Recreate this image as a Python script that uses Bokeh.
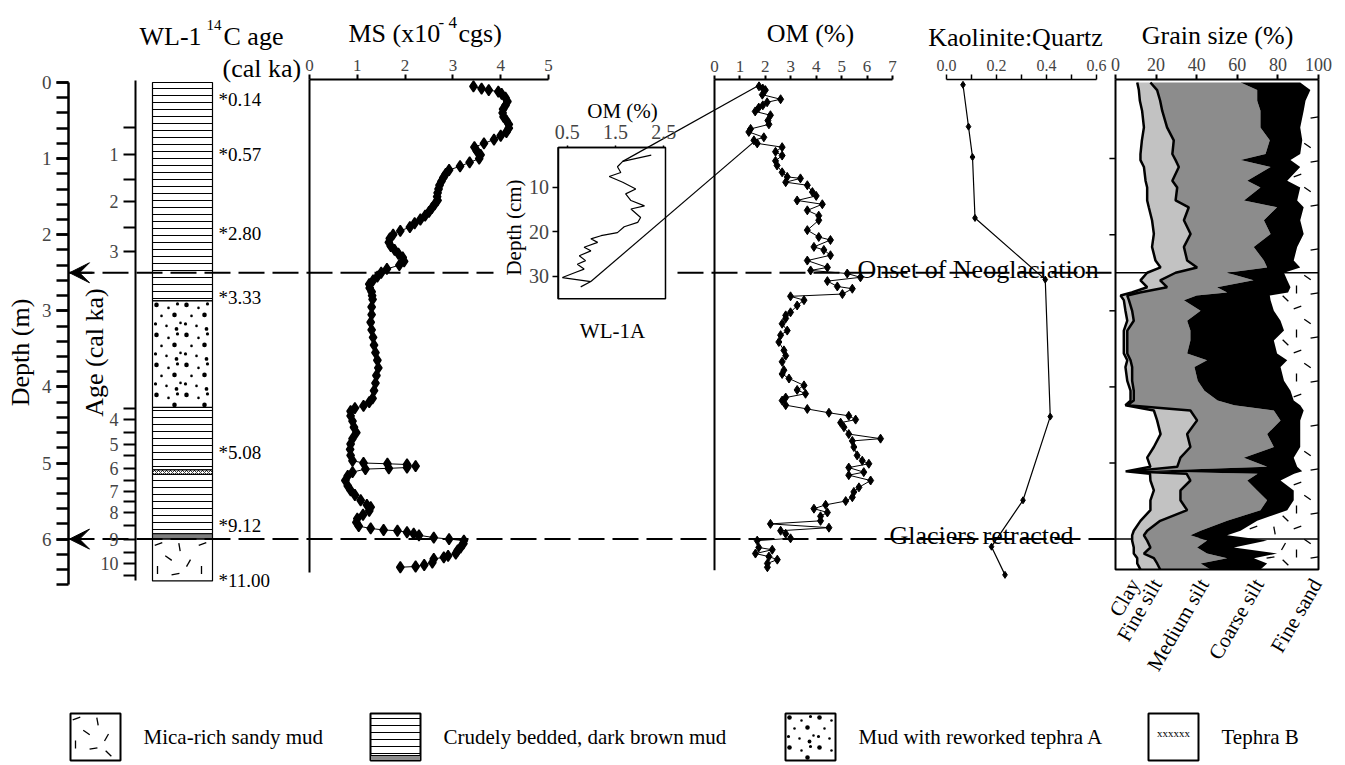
import numpy as np
from bokeh.plotting import figure
from bokeh.models import (Range1d, LinearAxis, FixedTicker, Arrow, VeeHead,
                          NumeralTickFormatter, Grid)
from bokeh.core.properties import value
from bokeh.embed import file_html
from bokeh.resources import INLINE

FONT = "Liberation Serif"

# ---------------------------------------------------------------- data
events_depth = [2.5, 6.0]
events_label = ["Onset of Neoglaciation", "Glaciers retracted"]

litho_top = [0.0, 2.87, 4.27, 5.09, 5.15, 5.93, 6.00]
litho_bottom = [2.87, 4.27, 5.09, 5.15, 5.93, 6.00, 6.55]
litho_kind = ["mud", "tephraA", "mud", "tephraB", "mud", "band", "mica"]

c14_depth = [0.22, 0.95, 1.98, 2.83, 4.86, 5.82, 6.54]
c14_label = ["*0.14", "*0.57", "*2.80", "*3.33", "*5.08", "*9.12", "*11.00"]

depth_ticks = [0, 1, 2, 3, 4, 5, 6]
age_tick_depth = [0.95, 1.56, 2.22, 4.43, 4.76, 5.07, 5.38, 5.65, 6.00, 6.32]
age_tick_label = ["1", "2", "3", "4", "5", "6", "7", "8", "9", "10"]
age_minor_depth = [0.59, 1.27, 1.91, 4.28, 4.60, 4.90, 5.23, 5.51, 5.82, 6.18, 6.48]

ms_depth = [0.05, 0.08, 0.10, 0.12, 0.15, 0.20, 0.25, 0.30, 0.35, 0.40, 0.45, 0.50,
            0.55, 0.60, 0.65, 0.70, 0.75, 0.80, 0.85, 0.90, 0.95, 1.00, 1.05, 1.10,
            1.15, 1.20, 1.25, 1.30, 1.35, 1.40, 1.45, 1.50, 1.55, 1.60, 1.65, 1.70,
            1.75, 1.80, 1.85, 1.90, 1.95, 2.00, 2.05, 2.10, 2.15, 2.20, 2.25, 2.30,
            2.35, 2.40, 2.45, 2.50, 2.55, 2.60, 2.65, 2.70, 2.75, 2.80, 2.85, 2.95,
            3.05, 3.15, 3.25, 3.35, 3.45, 3.55, 3.65, 3.75, 3.85, 3.95, 4.05, 4.15,
            4.20, 4.25, 4.28, 4.32, 4.38, 4.45, 4.53, 4.60, 4.68, 4.75, 4.82, 4.90,
            4.97, 5.00, 5.01, 5.02, 5.04, 5.06, 5.07, 5.08, 5.12, 5.17, 5.23, 5.30,
            5.36, 5.42, 5.49, 5.55, 5.58, 5.63, 5.68, 5.73, 5.78, 5.83, 5.86, 5.88,
            5.89, 5.91, 5.93, 5.95, 5.98, 6.00, 6.02, 6.06, 6.11, 6.15, 6.19, 6.22,
            6.24, 6.26, 6.31, 6.34, 6.36, 6.37]
ms_value = [3.43, 3.60, 3.75, 3.95, 4.02, 4.10, 4.14, 4.10, 4.05, 4.04, 4.06, 4.12,
            4.17, 4.17, 4.12, 4.00, 3.86, 3.65, 3.45, 3.50, 3.58, 3.55, 3.35, 3.15,
            2.92, 2.85, 2.80, 2.76, 2.72, 2.70, 2.68, 2.67, 2.68, 2.62, 2.56, 2.50,
            2.42, 2.32, 2.20, 2.10, 1.90, 1.75, 1.68, 1.66, 1.70, 1.78, 1.86, 1.95,
            1.98, 1.88, 1.62, 1.50, 1.42, 1.33, 1.25, 1.26, 1.30, 1.31, 1.32, 1.30,
            1.30, 1.28, 1.30, 1.33, 1.35, 1.38, 1.42, 1.44, 1.40, 1.38, 1.35, 1.32,
            1.25, 1.13, 0.95, 0.86, 0.86, 0.90, 0.93, 0.98, 0.90, 0.86, 0.85, 0.86,
            0.90, 1.13, 1.63, 2.04, 2.22, 2.04, 1.66, 1.17, 0.90, 0.80, 0.75, 0.80,
            0.86, 0.95, 1.07, 1.20, 1.28, 1.25, 1.12, 1.00, 0.98, 1.03, 1.28, 1.55,
            1.84, 2.04, 2.18, 2.29, 2.60, 2.92, 3.23, 3.22, 3.16, 3.10, 3.06, 2.90,
            2.81, 2.60, 2.57, 2.40, 2.22, 1.90]

om_depth = [0.05, 0.08, 0.10, 0.16, 0.22, 0.26, 0.30, 0.33, 0.38, 0.43, 0.50, 0.55,
            0.61, 0.65, 0.72, 0.76, 0.80, 0.85, 0.91, 0.96, 1.03, 1.09, 1.18, 1.24,
            1.26, 1.31, 1.35, 1.44, 1.49, 1.55, 1.60, 1.68, 1.75, 1.81, 1.94, 2.03,
            2.07, 2.16, 2.20, 2.27, 2.34, 2.43, 2.47, 2.51, 2.56, 2.61, 2.68, 2.71,
            2.78, 2.81, 2.86, 2.93, 3.02, 3.06, 3.10, 3.17, 3.26, 3.32, 3.41, 3.52,
            3.59, 3.67, 3.78, 3.83, 3.89, 3.98, 4.04, 4.09, 4.14, 4.18, 4.24, 4.29,
            4.34, 4.38, 4.43, 4.47, 4.53, 4.62, 4.68, 4.71, 4.79, 4.90, 4.97, 5.01,
            5.06, 5.12, 5.16, 5.23, 5.32, 5.38, 5.45, 5.50, 5.55, 5.60, 5.65, 5.70,
            5.76, 5.80, 5.85, 5.89, 5.93, 5.99, 6.02, 6.11, 6.14, 6.19, 6.23, 6.27,
            6.32, 6.37]
om_value = [1.75, 1.90, 2.00, 1.88, 2.60, 2.07, 1.90, 1.74, 1.60, 2.20, 2.10, 2.14,
            1.42, 1.35, 1.94, 1.55, 1.68, 2.66, 2.40, 2.66, 2.40, 2.46, 2.66, 2.86,
            3.38, 2.80, 3.65, 3.85, 4.00, 3.25, 4.24, 3.65, 4.10, 4.10, 3.65, 4.10,
            4.56, 3.91, 4.30, 4.56, 3.65, 4.44, 3.78, 5.22, 5.74, 4.44, 4.83, 5.42,
            5.03, 2.99, 3.52, 3.25, 2.99, 2.80, 2.80, 2.66, 2.86, 2.60, 2.53, 2.73,
            2.80, 2.66, 2.73, 2.66, 2.93, 3.52, 3.25, 3.58, 2.80, 2.66, 2.80, 3.65,
            4.50, 5.28, 5.55, 4.96, 5.09, 5.28, 6.53, 5.42, 5.48, 5.61, 5.81, 6.07,
            5.28, 5.87, 5.28, 6.14, 5.68, 5.48, 5.42, 5.16, 4.37, 3.91, 4.44, 4.17,
            4.17, 2.20, 4.50, 2.60, 2.80, 2.99, 1.68, 1.74, 2.27, 1.61, 2.14, 2.47,
            2.08, 2.08]

kq_depth = [0.03, 0.58, 0.98, 1.78, 2.59, 4.39, 5.49, 6.10, 6.47]
kq_value = [0.066, 0.088, 0.104, 0.114, 0.395, 0.415, 0.306, 0.180, 0.234]

gs_classes = ["Clay", "Fine silt", "Medium silt", "Coarse silt", "Fine sand"]
gs_depth = [0.00, 0.10, 0.24, 0.37, 0.59, 0.76, 0.94, 1.02, 1.11, 1.29, 1.38, 1.55,
            1.64, 1.81, 1.99, 2.16, 2.34, 2.43, 2.50, 2.60, 2.69, 2.76, 2.80, 2.86,
            3.00, 3.13, 3.26, 3.39, 3.56, 3.65, 3.74, 3.92, 4.05, 4.18, 4.24, 4.31,
            4.44, 4.62, 4.79, 4.93, 5.05, 5.11, 5.14, 5.23, 5.36, 5.49, 5.62, 5.76,
            5.89, 5.95, 6.02, 6.11, 6.19, 6.25, 6.32, 6.40]
gs_clay = [10.7, 11.5, 12.0, 13.1, 14.0, 13.0, 12.3, 12.3, 14.0, 14.8, 15.6, 15.6,
           16.4, 18.0, 18.9, 18.0, 19.7, 22.2, 15.6, 12.3, 15.6, 8.0, 2.5, 4.1,
           4.9, 5.8, 4.1, 4.1, 4.1, 5.8, 4.9, 5.8, 7.4, 7.4, 4.9, 18.9,
           20.5, 22.2, 18.9, 15.6, 17.2, 5.0, 17.0, 17.2, 18.9, 17.2, 17.2, 12.3,
           9.0, 8.2, 8.2, 9.0, 9.0, 10.7, 10.7, 12.3]
gs_fine_silt = [17.2, 20.5, 22.0, 23.0, 25.4, 28.7, 28.0, 29.6, 31.2, 28.0, 30.4, 29.6,
                36.1, 33.7, 37.0, 33.7, 35.3, 40.2, 29.6, 22.0, 25.4, 12.0, 5.8, 6.6,
                8.2, 9.0, 5.8, 5.8, 5.8, 7.4, 8.2, 8.2, 9.0, 9.0, 5.8, 36.9,
                40.2, 35.3, 36.9, 32.0, 30.4, 7.0, 35.0, 36.9, 32.0, 32.0, 35.3, 22.0,
                15.6, 14.0, 15.6, 17.2, 14.0, 18.9, 20.5, 22.0]
gs_medium_silt = [61.6, 69.8, 69.8, 71.4, 71.4, 76.0, 73.9, 61.6, 76.4, 64.9, 71.4, 63.3,
                  79.6, 73.1, 76.4, 68.1, 73.1, 74.7, 55.0, 68.0, 50.0, 55.0, 40.0, 33.7,
                  41.9, 35.3, 36.9, 36.9, 35.3, 45.1, 38.9, 40.5, 43.8, 50.3, 58.5, 78.0,
                  81.3, 74.7, 78.0, 63.2, 74.7, 10.0, 70.0, 64.9, 69.8, 74.7, 71.4, 55.0,
                  41.9, 36.9, 45.1, 40.2, 45.1, 55.0, 41.9, 46.8]
gs_coarse_silt = [91.0, 96.0, 93.6, 92.7, 91.0, 92.0, 91.0, 86.2, 91.0, 84.6, 91.0, 89.5,
                  92.7, 91.0, 92.7, 89.5, 87.8, 91.0, 83.0, 84.6, 86.2, 85.0, 76.0, 76.4,
                  78.0, 81.3, 83.0, 78.0, 79.6, 84.6, 81.3, 83.0, 86.2, 87.8, 91.0, 92.7,
                  91.0, 91.0, 91.0, 87.8, 89.5, 92.0, 88.0, 81.3, 87.8, 87.8, 84.6, 69.8,
                  61.6, 55.0, 74.7, 58.3, 79.6, 68.2, 74.7, 71.4]
gs_tick_depth = [1, 2, 3, 4, 5, 6]

inset_depth_cm = [2.8, 4.2, 5.4, 6.7, 7.6, 8.9, 10.4, 11.5, 13.0, 14.2, 14.9, 16.8,
                  17.9, 18.9, 20.2, 20.9, 21.6, 22.4, 23.5, 24.3, 25.4, 26.5, 27.3,
                  28.4, 29.1, 30.3, 31.2, 32.4]
inset_om = [2.24, 1.65, 1.54, 1.61, 1.37, 1.65, 1.92, 1.71, 1.82, 2.10, 1.82, 2.02,
            1.96, 1.68, 1.54, 1.20, 0.99, 1.13, 0.85, 0.99, 0.75, 0.88, 0.71, 0.85,
            0.68, 0.40, 0.99, 0.78]
# inset points (OM %, cm) linked to WL-1 OM points (OM %, m)
link_inset = [(1.65, 4.2), (0.99, 31.2)]
link_core = [(1.68, 0.05), (1.55, 0.78)]

legend_labels = ["Mica-rich sandy mud", "Crudely bedded, dark brown mud",
                 "Mud with reworked tephra A", "Tephra B"]
legend_kind = ["mica", "mud", "tephraA", "tephraB"]

# texture motifs (one repeating tile each, in pixels): mica flakes and tephra grains
MICA_TILE = 44
mica_motif = [(6, 5, 20), (27, 8, 100), (16, 19, -35), (36, 24, 60), (5, 31, 90),
              (23, 35, 10), (38, 40, -45)]
GRAIN_TILE = 30
grain_motif = [(4, 4, 4.6), (16, 7, 2.6), (25, 3, 3.2), (9, 15, 2.6), (22, 14, 4.6),
               (28, 22, 2.6), (3, 23, 3.2), (14, 25, 2.6), (24, 28, 3.8)]

# ---------------------------------------------------------------- layout helpers
X0, X1 = 0, 1344          # page pixels covered by the canvas
Y0, Y1 = 0, 764
PX_PER_M, Y_DEPTH0 = 76.1, 82.0
AX_D = (79 - Y_DEPTH0) / PX_PER_M     # depth of the top axes


def xmap(v0, p0, v1, p1):
    s = (p1 - p0) / (v1 - v0)
    return Range1d(start=v0 - (p0 - X0) / s, end=v0 + (X1 - p0) / s)


def dpx(d):
    return Y_DEPTH0 + d * PX_PER_M


IN_V0, IN_P0, IN_V1, IN_P1 = 0.5, 566.7, 2.5, 663.3
IN_C0, IN_Q0, IN_SC = 10.0, 186.7, 4.45
OM_P0, OM_SC = 714.0, 178.0 / 7.0
GS_P0, GS_SC = 1115.0, 2.03

p = figure(width=X1 - X0, height=Y1 - Y0,
           x_range=Range1d(X0, X1),
           y_range=Range1d(start=(Y1 - Y_DEPTH0) / PX_PER_M, end=(Y0 - Y_DEPTH0) / PX_PER_M),
           x_axis_location=None, y_axis_location=None, toolbar_location=None,
           output_backend="svg", min_border=0, outline_line_color=None)
p.center = [r for r in p.center if not isinstance(r, Grid)]
p.extra_x_ranges = {
    "ms": xmap(0, 309, 5, 548),
    "om": xmap(0, OM_P0, 7, OM_P0 + 7 * OM_SC),
    "kq": xmap(0, 946, 0.6, 1096),
    "gs": xmap(0, GS_P0, 100, GS_P0 + 100 * GS_SC),
    "inx": xmap(IN_V0, IN_P0, IN_V1, IN_P1),
}
p.extra_y_ranges = {
    "px": Range1d(start=Y1, end=Y0),
    "iny": Range1d(start=IN_C0 + (Y1 - IN_Q0) / IN_SC, end=IN_C0 + (Y0 - IN_Q0) / IN_SC),
}


def tile(x0, x1, y0, y1, motif, size, keep=None, margin=2.5):
    out = []
    for ty in np.arange(y0, y1, size):
        for tx in np.arange(x0, x1, size):
            for mx, my, extra in motif:
                x, y = tx + mx, ty + my
                if x0 + margin <= x <= x1 - margin and y0 + margin <= y <= y1 - margin:
                    if keep is None or keep(x, y):
                        out.append((x, y, extra))
    return out


def draw_mica(x0, x1, y0, y1, keep=None):
    pts = tile(x0, x1, y0, y1, mica_motif, MICA_TILE, keep, margin=4)
    if pts:
        p.scatter([q[0] for q in pts], [q[1] for q in pts], marker="dash", size=8,
                  angle=[np.deg2rad(q[2]) for q in pts], line_color="black", line_width=1.3,
                  y_range_name="px")


def draw_grains(x0, x1, y0, y1):
    pts = tile(x0, x1, y0, y1, grain_motif, GRAIN_TILE)
    p.scatter([q[0] for q in pts], [q[1] for q in pts], marker="circle", size=[q[2] for q in pts],
              fill_color="black", line_color=None, y_range_name="px")


STYLES = {
    "mud": dict(fill_color="white", hatch_pattern="horizontal_line", hatch_scale=7, hatch_weight=1),
    "tephraA": dict(fill_color="white"),
    "tephraB": dict(fill_color="white", hatch_pattern="diagonal_cross", hatch_scale=4, hatch_weight=0.8),
    "band": dict(fill_color="#7f7f7f"),
    "mica": dict(fill_color="white"),
}


def txt(x, y, s, size, align="center", baseline="alphabetic", angle=0.0):
    p.text(x=[x], y=[y], text=[s], text_font=value(FONT), text_font_size=f"{size}px",
           text_align=align, text_baseline=baseline, angle=angle, text_color="black",
           y_range_name="px")


def axis_style(ax, size="17px", lw=2):
    ax.axis_line_width = lw
    ax.major_tick_line_width = lw
    ax.minor_tick_line_width = lw
    ax.major_label_text_font = FONT
    ax.major_label_text_font_size = size
    ax.major_tick_in = 0
    ax.minor_tick_in = 0
    return ax


# ---------------------------------------------------------------- lithology column
COL_L, COL_R = 152, 212
for kind, st in STYLES.items():
    idx = [i for i, k in enumerate(litho_kind) if k == kind]
    if idx:
        p.quad(left=COL_L, right=COL_R, top=[litho_top[i] for i in idx],
               bottom=[litho_bottom[i] for i in idx], line_color="black", line_width=1.2, **st)
for t, b, k in zip(litho_top, litho_bottom, litho_kind):
    if k == "tephraA":
        draw_grains(COL_L, COL_R, dpx(t), dpx(b))
    elif k == "mica":
        draw_mica(COL_L, COL_R, dpx(t), dpx(b))
p.text(x=218, y=c14_depth, text=c14_label, text_font=value(FONT), text_font_size="19px",
       text_baseline="middle", text_align="left")
txt(170, 36, "WL-1", 26)
txt(206, 24, "14", 15, align="left")
txt(223, 36, "C age", 26, align="left")
txt(222, 68, "(cal ka)", 26, align="left")

# ---------------------------------------------------------------- event lines
for d in events_depth:
    p.line([68, 493] if d < 3 else [68, 1115], [d, d], line_color="black", line_width=2, line_dash="26 8")
    if d < 3:
        p.line([677, 1115], [d, d], line_color="black", line_width=2, line_dash="26 8")
    p.line([1115, 1318], [d, d], line_color="black", line_width=1.5)
    p.add_layout(Arrow(end=VeeHead(size=20, fill_color="black", line_color="black"),
                       x_start=92, x_end=69, y_start=d, y_end=d, line_width=2))
txt(857, 269, events_label[0], 26, align="left")
txt(889, 535, events_label[1], 26, align="left")

# ---------------------------------------------------------------- depth & age axes
ax = axis_style(LinearAxis(fixed_location=68, bounds=(0, 6.6),
                           ticker=FixedTicker(ticks=depth_ticks, minor_ticks=list(np.arange(0, 6.61, 0.2))),
                           major_tick_out=12, minor_tick_out=12, major_label_standoff=5), "19px", 2.5)
p.add_layout(ax, "left")
ax = axis_style(LinearAxis(fixed_location=135, bounds=(-0.03, 6.55),
                           ticker=FixedTicker(ticks=age_tick_depth, minor_ticks=age_minor_depth),
                           major_tick_out=12, minor_tick_out=12, major_label_standoff=5,
                           major_label_overrides=dict(zip(age_tick_depth, age_tick_label))), "18px", 2)
p.add_layout(ax, "left")
txt(20, 352, "Depth (m)", 26, baseline="middle", angle=np.pi / 2)
txt(94, 352, "Age (cal ka)", 26, baseline="middle", angle=np.pi / 2)

# ---------------------------------------------------------------- MS panel
p.line([0, 0], [AX_D, 6.44], x_range_name="ms", line_color="black", line_width=2)
p.line(ms_value, ms_depth, x_range_name="ms", line_color="black", line_width=1)
p.scatter(ms_value, ms_depth, x_range_name="ms", marker="diamond", size=11,
          fill_color="black", line_color="black", line_width=1.5)
ax = axis_style(LinearAxis(x_range_name="ms", fixed_location=AX_D, bounds=(0, 5),
                           ticker=FixedTicker(ticks=[0, 1, 2, 3, 4, 5]),
                           major_tick_out=5, major_label_standoff=4))
p.add_layout(ax, "above")
txt(348, 33, "MS (x10", 26, align="left")
txt(438, 22, "- 4", 17, align="left")
txt(458, 33, "cgs)", 26, align="left")

# ---------------------------------------------------------------- OM panel
p.line([0, 0], [AX_D, 6.41], x_range_name="om", line_color="black", line_width=2)
p.line(om_value, om_depth, x_range_name="om", line_color="black", line_width=1)
p.scatter(om_value, om_depth, x_range_name="om", marker="diamond", size=9,
          fill_color="black", line_color="black")
ax = axis_style(LinearAxis(x_range_name="om", fixed_location=AX_D, bounds=(0, 7),
                           ticker=FixedTicker(ticks=list(range(8))),
                           major_tick_out=4, major_label_standoff=4))
p.add_layout(ax, "above")
txt(810, 33, "OM (%)", 26)

# ---------------------------------------------------------------- inset WL-1A
IN_L, IN_R = 0.31, 2.535
IN_T, IN_B = 1.06, 35.06
p.quad(left=IN_L, right=IN_R, top=IN_T, bottom=IN_B, fill_color=None, line_color="black",
       line_width=1.5, x_range_name="inx", y_range_name="iny")
p.line(inset_om, inset_depth_cm, x_range_name="inx", y_range_name="iny",
       line_color="black", line_width=1.2)
ax = axis_style(LinearAxis(x_range_name="inx", y_range_name="iny", fixed_location=IN_T,
                           bounds=(IN_L, IN_R), ticker=FixedTicker(ticks=[0.5, 1.5, 2.5]),
                           major_tick_out=2, major_label_standoff=6), "20px", 1.5)
p.add_layout(ax, "above")
ax = axis_style(LinearAxis(x_range_name="inx", y_range_name="iny", fixed_location=IN_L,
                           bounds=(IN_T, IN_B), ticker=FixedTicker(ticks=[10, 20, 30]),
                           major_tick_out=6, major_label_standoff=3), "20px", 1.5)
p.add_layout(ax, "left")
txt(622, 110, "OM (%)", 21)
txt(513, 227, "Depth (cm)", 21, baseline="middle", angle=np.pi / 2)
txt(612, 330, "WL-1A", 21)


def inset_px(v, c):
    return (IN_P0 + (v - IN_V0) * (IN_P1 - IN_P0) / (IN_V1 - IN_V0), IN_Q0 + (c - IN_C0) * IN_SC)


def core_px(v, d):
    return (OM_P0 + v * OM_SC, dpx(d))


a = [inset_px(*t) for t in link_inset]
b = [core_px(*t) for t in link_core]
p.segment(x0=[q[0] for q in a], y0=[q[1] for q in a], x1=[q[0] for q in b], y1=[q[1] for q in b],
          line_color="black", line_width=1.2, y_range_name="px")

# ---------------------------------------------------------------- Kaolinite:Quartz
p.line(kq_value, kq_depth, x_range_name="kq", line_color="black", line_width=1.2)
p.scatter(kq_value, kq_depth, x_range_name="kq", marker="diamond", size=7,
          fill_color="black", line_color="black")
ax = axis_style(LinearAxis(x_range_name="kq", fixed_location=AX_D, bounds=(0, 0.6),
                           ticker=FixedTicker(ticks=[0, 0.2, 0.4, 0.6], minor_ticks=[0.1, 0.3, 0.5]),
                           formatter=NumeralTickFormatter(format="0.0"),
                           major_tick_out=5, minor_tick_out=5, major_label_standoff=4), "16px", 1.5)
p.add_layout(ax, "above")
txt(1015, 37, "Kaolinite:Quartz", 26)

# ---------------------------------------------------------------- Grain size
GS_BOT = 6.40
p.harea(x1=gs_clay, x2=gs_fine_silt, y=gs_depth, x_range_name="gs", fill_color="#c2c2c2")
p.harea(x1=gs_fine_silt, x2=gs_medium_silt, y=gs_depth, x_range_name="gs", fill_color="#8c8c8c")
p.harea(x1=gs_medium_silt, x2=gs_coarse_silt, y=gs_depth, x_range_name="gs", fill_color="black")


def in_fine_sand(x, y):
    d = (y - Y_DEPTH0) / PX_PER_M
    if d < gs_depth[0] or d > gs_depth[-1]:
        return False
    return (x - GS_P0) / GS_SC > np.interp(d, gs_depth, gs_coarse_silt) + 2.5


draw_mica(GS_P0, GS_P0 + 100 * GS_SC, dpx(0), dpx(GS_BOT), keep=in_fine_sand)
p.line(gs_clay, gs_depth, x_range_name="gs", line_color="black", line_width=2.5)
p.line(gs_fine_silt, gs_depth, x_range_name="gs", line_color="black", line_width=2.5)
p.line([0, 0, 100, 100], [AX_D, GS_BOT, GS_BOT, AX_D], x_range_name="gs",
       line_color="black", line_width=2)
p.segment(x0=-3, x1=0, y0=gs_tick_depth, y1=gs_tick_depth, x_range_name="gs",
          line_color="black", line_width=1.5)
ax = axis_style(LinearAxis(x_range_name="gs", fixed_location=AX_D, bounds=(0, 100),
                           ticker=FixedTicker(ticks=[0, 20, 40, 60, 80, 100]),
                           major_tick_out=5, major_label_standoff=4), "18px", 2)
p.add_layout(ax, "above")
txt(1217, 35, "Grain size (%)", 26)
gs_label_x = [1134, 1156, 1203, 1258, 1316]
for x, s in zip(gs_label_x, gs_classes):
    txt(x, 580, s, 21, align="right", baseline="middle", angle=np.deg2rad(60))

# ---------------------------------------------------------------- legend
LEG_X = [70, 370, 785, 1148]
LEG_W, LEG_T, LEG_B = 50, 713, 760
for x, kind, lab in zip(LEG_X, legend_kind, legend_labels):
    st = STYLES[kind] if kind != "tephraB" else dict(fill_color="white")
    p.quad(left=x, right=x + LEG_W, top=LEG_T, bottom=LEG_B, line_color="black",
           line_width=2, y_range_name="px", **st)
    if kind == "mud":
        p.quad(left=x, right=x + LEG_W, top=LEG_B - 5, bottom=LEG_B, fill_color="#8c8c8c",
               line_color="black", line_width=1, y_range_name="px")
    elif kind == "mica":
        draw_mica(x, x + LEG_W, LEG_T, LEG_B)
    elif kind == "tephraA":
        draw_grains(x, x + LEG_W, LEG_T, LEG_B)
    else:
        txt(x + LEG_W / 2, (LEG_T + LEG_B) / 2 - 4, "xxxxxx", 11, baseline="middle")
    txt(x + 73, (LEG_T + LEG_B) / 2, lab, 21, align="left", baseline="middle")

open("out.html", "w").write(file_html(p, INLINE))
